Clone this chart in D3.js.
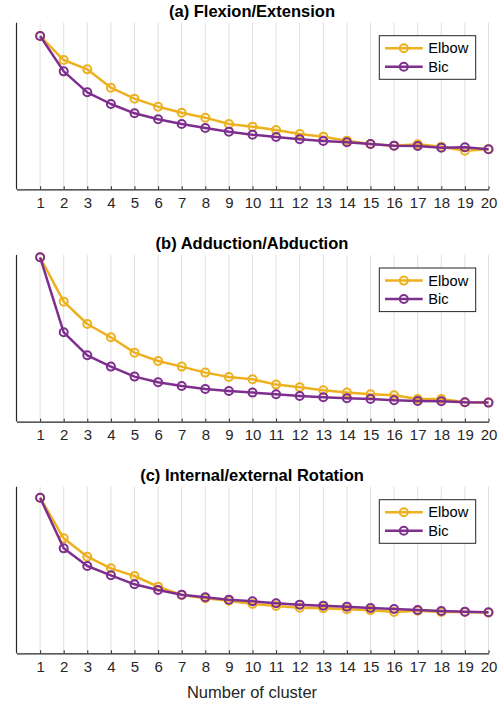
<!DOCTYPE html>
<html>
<head>
<meta charset="utf-8">
<script src="https://cdn.jsdelivr.net/npm/d3@7"></script>
<style>
  body { margin: 0; background: #fff; }
  svg { display: block; font-family: 'Liberation Sans', Arial, sans-serif; }
</style>
</head>
<body>
<div id="chart"></div>
<script>
// cluster counts on the x axis
let clusters = [1, 2, 3, 4, 5, 6, 7, 8, 9, 10, 11, 12, 13, 14, 15, 16, 17, 18, 19, 20]

let titles = ['(a) Flexion/Extension', '(b) Adduction/Abduction', '(c) Internal/external Rotation']
let seriesNames = ['Elbow', 'Bic']

// values, y axis has no scale so 0-100 of the plot height
let elbowA = [92, 77.6, 72, 61, 54.4, 49.6, 46, 43, 39.2, 37.6, 35.6, 33.2, 31.6, 29.2, 27.2, 26.2, 27, 25.6, 23.2, 24]
let bicA = [92, 70.8, 58.2, 51.2, 45.6, 42, 39.2, 36.8, 34.6, 32.8, 31.4, 30, 29, 28.2, 27.2, 26.2, 26, 25, 25.2, 24]

let elbowB = [98.6, 72, 58.6, 50.6, 41.4, 36.4, 33, 29.4, 26.8, 25.4, 22.2, 20.6, 18.8, 17.4, 16.4, 15.8, 13.6, 13.6, 11.6, 11.4]
let bicB = [98.6, 53.6, 39.8, 33, 27, 23.6, 21.4, 19.6, 18.4, 17.4, 16.4, 15.4, 14.6, 14, 13.6, 12.8, 12.4, 12.2, 11.6, 11.4]

let elbowC = [93.4, 69, 58, 51, 46.4, 40, 35, 33, 31.6, 29.6, 28.4, 27.4, 27, 26.4, 25.8, 24.8, 25.6, 24.8, 24.8, 24.4]
let bicC = [93.4, 63, 52.4, 46.8, 41.4, 38, 35.2, 33.6, 32.2, 31.2, 30, 29.2, 28.6, 28, 27.2, 26.6, 26, 25.4, 25, 24.6]

let panels = [
  { title: titles[0], series: [elbowA, bicA] },
  { title: titles[1], series: [elbowB, bicB] },
  { title: titles[2], series: [elbowC, bicC] }
]

let colors = ['#EDB120', '#7E2F8E']
let axisColor = '#262626'

let W = 503
let H = 704
let margin = { left: 16.5, right: 14.5 }
let panelTops = [22.7, 255, 486.7]
let panelHeight = 166.6

let svg = d3
  .select('#chart')
  .append('svg')
  .attr('width', W)
  .attr('height', H)

let xPositionScale = d3.scaleLinear().domain([0, 20]).range([margin.left, W - margin.right])
let yPositionScale = d3.scaleLinear().domain([0, 100]).range([panelHeight, 0])

let line = d3
  .line()
  .x((d, i) => xPositionScale(clusters[i]))
  .y(d => yPositionScale(d))

panels.forEach((p, pi) => {
  let g = svg.append('g').attr('transform', `translate(0, ${panelTops[pi]})`)

  // vertical grid lines
  g.selectAll('.grid')
    .data(clusters)
    .enter()
    .append('line')
    .attr('x1', d => xPositionScale(d))
    .attr('x2', d => xPositionScale(d))
    .attr('y1', 0)
    .attr('y2', panelHeight)
    .attr('stroke', '#dfdfdf')
    .attr('stroke-width', 1)

  // x axis with inward ticks
  let xAxis = d3.axisBottom(xPositionScale)
    .tickValues(clusters)
    .tickSizeInner(-3)
    .tickSizeOuter(0)
    .tickPadding(8)
  let ax = g.append('g')
    .attr('transform', `translate(0, ${panelHeight})`)
    .call(xAxis)
  ax.select('.domain').attr('stroke', axisColor).attr('stroke-width', 1.2)
  ax.selectAll('.tick line').attr('stroke', axisColor).attr('stroke-width', 1)
  ax.selectAll('.tick text')
    .attr('fill', axisColor)
    .attr('font-size', 15)
    .attr('font-family', "'Liberation Sans', Arial, sans-serif")
    .attr('dy', '0.71em')
    .attr('y', 8)

  // left axis line only
  g.append('line')
    .attr('x1', xPositionScale(0))
    .attr('x2', xPositionScale(0))
    .attr('y1', 0)
    .attr('y2', panelHeight)
    .attr('stroke', axisColor)
    .attr('stroke-width', 1.2)

  // series
  p.series.forEach((values, si) => {
    g.append('path')
      .datum(values)
      .attr('d', line)
      .attr('fill', 'none')
      .attr('stroke', colors[si])
      .attr('stroke-width', 2.5)
      .attr('stroke-linejoin', 'round')

    g.selectAll('.dot-' + si)
      .data(values)
      .enter()
      .append('circle')
      .attr('cx', (d, i) => xPositionScale(clusters[i]))
      .attr('cy', d => yPositionScale(d))
      .attr('r', 4)
      .attr('fill', 'none')
      .attr('stroke', colors[si])
      .attr('stroke-width', 2)
  })

  // title
  g.append('text')
    .attr('x', 252)
    .attr('y', -6)
    .attr('text-anchor', 'middle')
    .attr('font-size', 16.5)
    .attr('font-weight', 'bold')
    .attr('fill', '#000')
    .text(p.title)

  // legend
  let legend = g.append('g').attr('transform', 'translate(379.3, 13)')
  legend.append('rect')
    .attr('width', 96.4)
    .attr('height', 43.6)
    .attr('fill', '#fff')
    .attr('stroke', axisColor)
    .attr('stroke-width', 1)
  seriesNames.forEach((name, si) => {
    let ly = 12.6 + si * 18.4
    legend.append('line')
      .attr('x1', 5.7)
      .attr('x2', 43.4)
      .attr('y1', ly)
      .attr('y2', ly)
      .attr('stroke', colors[si])
      .attr('stroke-width', 2.5)
    legend.append('circle')
      .attr('cx', 24.5)
      .attr('cy', ly)
      .attr('r', 4)
      .attr('fill', 'none')
      .attr('stroke', colors[si])
      .attr('stroke-width', 2)
    legend.append('text')
      .attr('x', 49)
      .attr('y', ly + 5.2)
      .attr('font-size', 14.7)
      .attr('fill', '#000')
      .text(name)
  })
})

// x label under the last panel
svg.append('text')
  .attr('x', 252)
  .attr('y', 698)
  .attr('text-anchor', 'middle')
  .attr('font-size', 16.5)
  .attr('fill', axisColor)
  .text('Number of cluster')
</script>
</body>
</html>
